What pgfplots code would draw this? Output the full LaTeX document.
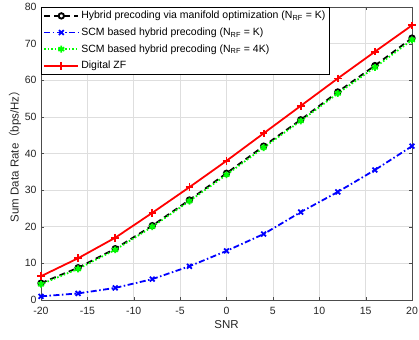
\documentclass[border=0pt]{standalone}
\usepackage{pgfplots}
\pgfplotsset{compat=1.18}
\usepackage{fontspec}
\setmainfont{Liberation Sans}
\newfontfamily\cjk{Noto Sans CJK SC}
\definecolor{mgray}{RGB}{38,38,38}
\definecolor{mgreen}{RGB}{0,255,0}
\pgfplotsset{mylegend/.style={legend image code/.code={%
    \draw[mark repeat=2,mark phase=2] plot coordinates {(0cm,0cm) (0.6cm,0cm) (1.2cm,0cm)};}}}
\begin{document}
\begin{tikzpicture}
\begin{axis}[
  scale only axis,
  width=371pt, height=293pt,
  xmin=-20, xmax=20, ymin=0, ymax=80,
  xtick={-20,-15,...,20}, ytick={0,10,...,80},
  grid=major,
  major grid style={draw=black!13, line width=0.6pt},
  axis line style={draw=black!70, line width=0.7pt},
  tick style={draw=black!70},
  tick align=inside,
  major tick length=3pt,
  every tick label/.append style={font=\fontsize{10.5}{11}\selectfont, text=mgray},
  xticklabel style={yshift=-3.5pt},
  yticklabel style={xshift=-1pt},
  /pgf/number format/assume math mode=true,
  xlabel={SNR},
  ylabel={Sum Data Rate{\cjk （}bps/Hz{\cjk ）}},
  label style={font=\fontsize{11.5}{12}\selectfont, text=mgray},
  xlabel style={yshift=1pt},
  ylabel style={yshift=-3pt},
  legend style={at={(0,1)}, anchor=north west, font=\fontsize{10.5}{11}\selectfont,
    draw=black, line width=0.7pt, inner sep=2pt, row sep=3.5pt,
    cells={anchor=west}},
]
\coordinate (sw) at (rel axis cs:0,0);
\coordinate (ne) at (rel axis cs:1,1);
\addplot[black, dash pattern=on 6pt off 4pt, line width=1.8pt, mark=o, mark size=2.7pt, mark options={solid, line width=1.9pt}, mylegend]
coordinates {(-20,4.6)(-16,8.8)(-12,14.0)(-8,20.3)(-4,27.3)(0,34.6)(4,42.0)(8,49.2)(12,56.8)(16,64.0)(20,71.5)};
\addlegendentry{Hybrid precoding via manifold optimization (N\textsubscript{RF} = K)}
\addplot[blue, dash pattern=on 6pt off 2.5pt on 1.5pt off 2.5pt, line width=1.8pt, mark=x, mark size=3.4pt, mark options={solid, line width=1.8pt}, mylegend]
coordinates {(-20,1.0)(-16,1.8)(-12,3.3)(-8,5.7)(-4,9.2)(0,13.4)(4,18.0)(8,24.0)(12,29.5)(16,35.5)(20,42.0)};
\addlegendentry{SCM based hybrid precoding (N\textsubscript{RF} = K)}
\addplot[mgreen, dash pattern=on 1.5pt off 2pt, line width=1.8pt, mark=asterisk, mark size=3.4pt, mark options={solid, line width=1.8pt}, mylegend]
coordinates {(-20,4.3)(-16,8.5)(-12,13.7)(-8,20.0)(-4,27.0)(0,34.2)(4,41.6)(8,48.9)(12,56.4)(16,63.5)(20,71.0)};
\addlegendentry{SCM based hybrid precoding (N\textsubscript{RF} = 4K)}
\addplot[red, solid, line width=1.8pt, mark=+, mark size=3.8pt, mark options={solid, line width=1.8pt}, mylegend]
coordinates {(-20,6.5)(-16,11.4)(-12,17.0)(-8,23.8)(-4,30.8)(0,38.0)(4,45.5)(8,53.0)(12,60.5)(16,67.8)(20,75.0)};
\addlegendentry{Digital ZF}
\end{axis}
\pgfresetboundingbox
\useasboundingbox ([shift={(-41pt,-39pt)}]sw) rectangle ([shift={(7pt,7pt)}]ne);
\end{tikzpicture}
\end{document}
